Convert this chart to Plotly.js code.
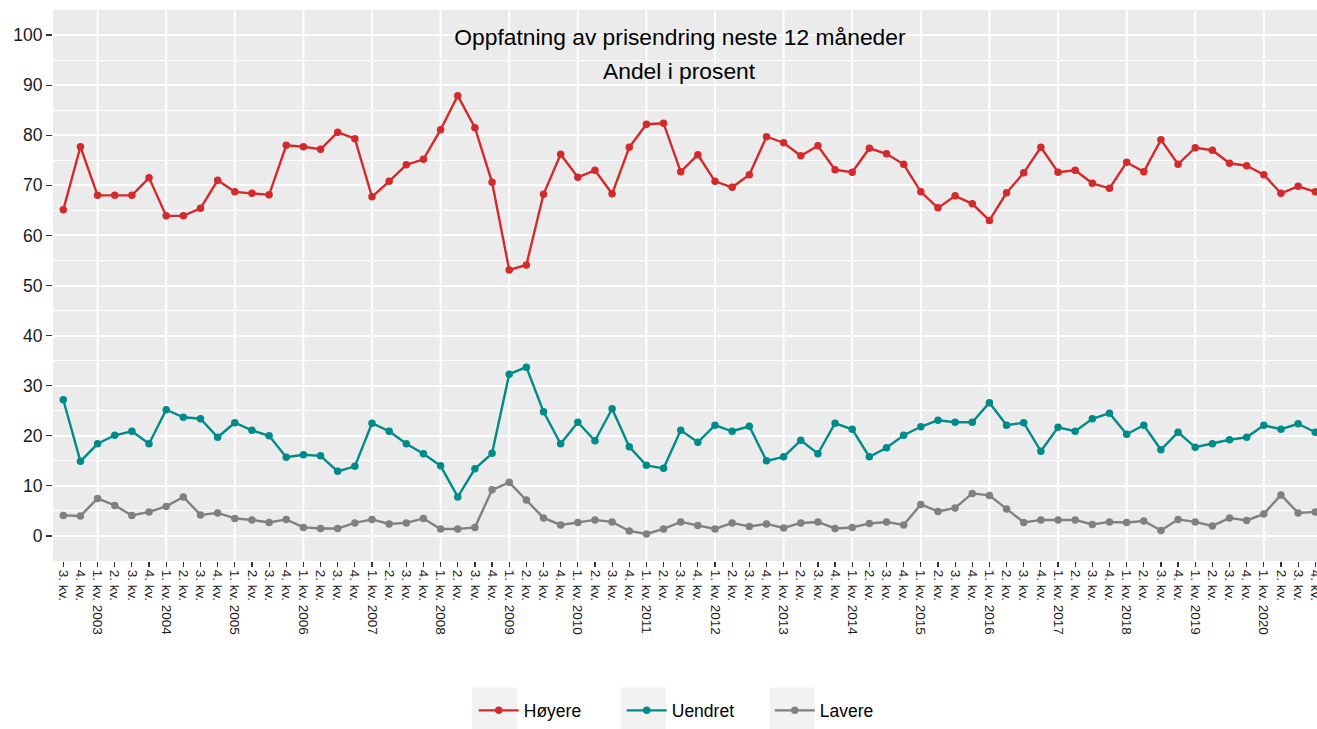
<!DOCTYPE html>
<html>
<head>
<meta charset="utf-8">
<script src="https://cdn.plot.ly/plotly-3.0.1.min.js"></script>
<style>
  html, body { margin: 0; padding: 0; background: #ffffff; }
  #chart { width: 1317px; height: 729px; }
</style>
</head>
<body>
<div id="chart"></div>
<script>
// Quarter labels (x categories)
const kvartaler = [
  "3. kv.", "4. kv.",
  "1. kv. 2003", "2. kv.", "3. kv. ", "4. kv. ",
  "1. kv. 2004", "2. kv.  ", "3. kv.  ", "4. kv.  ",
  "1. kv. 2005", "2. kv.   ", "3. kv.   ", "4. kv.   ",
  "1. kv. 2006", "2. kv.    ", "3. kv.    ", "4. kv.    ",
  "1. kv. 2007", "2. kv.     ", "3. kv.     ", "4. kv.     ",
  "1. kv. 2008", "2. kv.      ", "3. kv.      ", "4. kv.      ",
  "1. kv. 2009", "2. kv.       ", "3. kv.       ", "4. kv.       ",
  "1. kv. 2010", "2. kv.        ", "3. kv.        ", "4. kv.        ",
  "1. kv. 2011", "2. kv.         ", "3. kv.         ", "4. kv.         ",
  "1. kv. 2012", "2. kv.          ", "3. kv.          ", "4. kv.          ",
  "1. kv. 2013", "2. kv.           ", "3. kv.           ", "4. kv.           ",
  "1. kv. 2014", "2. kv.            ", "3. kv.            ", "4. kv.            ",
  "1. kv. 2015", "2. kv.             ", "3. kv.             ", "4. kv.             ",
  "1. kv. 2016", "2. kv.              ", "3. kv.              ", "4. kv.              ",
  "1. kv. 2017", "2. kv.               ", "3. kv.               ", "4. kv.               ",
  "1. kv. 2018", "2. kv.                ", "3. kv.                ", "4. kv.                ",
  "1. kv. 2019", "2. kv.                 ", "3. kv.                 ", "4. kv.                 ",
  "1. kv. 2020", "2. kv.                  ", "3. kv.                  ", "4. kv.                  "
];

// Series values (percent)
const hoyere = [65.1,77.7,68.0,68.0,68.0,71.5,63.9,63.9,65.4,71.0,
  68.7,68.4,68.1,78.0,77.7,77.2,80.6,79.3,67.7,70.8,
  74.1,75.2,81.1,87.9,81.5,70.6,53.1,54.1,68.2,76.2,
  71.6,73.0,68.3,77.6,82.2,82.4,72.7,76.1,70.8,69.6,
  72.1,79.7,78.5,75.9,77.9,73.1,72.6,77.4,76.3,74.2,
  68.7,65.5,67.9,66.3,63.0,68.5,72.5,77.6,72.6,73.0,
  70.4,69.4,74.6,72.7,79.1,74.2,77.5,77.0,74.4,73.9,
  72.1,68.4,69.8,68.7];

const uendret = [27.2,14.9,18.4,20.1,20.9,18.4,25.2,23.7,23.4,19.7,
  22.6,21.1,20.0,15.7,16.2,16.0,12.9,13.9,22.5,20.9,
  18.4,16.4,14.0,7.8,13.4,16.5,32.3,33.7,24.8,18.4,
  22.7,19.0,25.4,17.8,14.1,13.5,21.1,18.7,22.1,20.9,
  21.9,15.0,15.8,19.1,16.4,22.5,21.3,15.8,17.6,20.1,
  21.8,23.1,22.7,22.7,26.6,22.1,22.6,16.9,21.7,20.9,
  23.4,24.5,20.3,22.1,17.2,20.7,17.7,18.4,19.2,19.7,
  22.1,21.3,22.4,20.7];

const lavere = [4.1,4.0,7.5,6.1,4.1,4.8,5.9,7.8,4.2,4.6,
  3.5,3.2,2.7,3.3,1.7,1.5,1.5,2.6,3.3,2.4,
  2.6,3.5,1.4,1.4,1.7,9.2,10.7,7.2,3.6,2.2,
  2.7,3.2,2.8,1.0,0.4,1.4,2.8,2.1,1.4,2.6,
  1.9,2.4,1.6,2.6,2.8,1.5,1.7,2.5,2.8,2.2,
  6.3,4.9,5.6,8.5,8.1,5.4,2.7,3.2,3.2,3.2,
  2.3,2.8,2.7,3.0,1.1,3.3,2.8,2.0,3.6,3.1,
  4.4,8.2,4.6,4.8];

const serieNavn = ["Høyere", "Uendret", "Lavere"];
const serieFarger = ["#D42A2C", "#008B8B", "#808080"];
const serieVerdier = [hoyere, uendret, lavere];

const tittel = "Oppfatning av prisendring neste 12 måneder";
const undertittel = "Andel i prosent";

const traces = serieVerdier.map((vals, k) => ({
  type: "scatter",
  mode: "lines+markers",
  name: serieNavn[k],
  x: kvartaler,
  y: vals,
  line: { color: serieFarger[k], width: 2.4 },
  marker: { color: serieFarger[k], size: 7.5 },
  hoverinfo: "x+y+name"
}));

// vertical grid lines at first quarters only
const shapes = kvartaler
  .filter(l => l.startsWith("1. kv."))
  .map(l => ({
    type: "line", layer: "below", xref: "x", yref: "paper",
    x0: l, x1: l, y0: 0, y1: 1,
    line: { color: "#ffffff", width: 2 }
  }));

// light grey legend key backgrounds (ggplot style), in pixel terms of the page
const plotL = 53, plotW = 1264, plotB = 563, plotH = 553;
const nokkelStart = [472, 621, 770];
nokkelStart.forEach(px => {
  shapes.push({
    type: "rect", layer: "below", xref: "paper", yref: "paper",
    x0: (px - plotL) / plotW, x1: (px + 45 - plotL) / plotW,
    y0: (plotB - 735) / plotH, y1: (plotB - 690) / plotH,
    fillcolor: "#F2F2F2", line: { width: 0 }
  });
});

const font = "'Liberation Sans', Arial, sans-serif";

const layout = {
  width: 1317, height: 729,
  paper_bgcolor: "#ffffff",
  plot_bgcolor: "#EBEBEB",
  margin: { l: 53, r: 0, t: 10, b: 166, pad: 0 },
  font: { family: font, color: "#000000" },
  showlegend: true,
  title: {
    text: tittel,
    font: { family: font, size: 22.8, color: "#000000" },
    xref: "paper", x: 0.496, xanchor: "center",
    yref: "container", y: 1 - 37 / 729, yanchor: "middle"
  },
  annotations: [{
    text: undertittel, showarrow: false,
    xref: "paper", x: 0.496, xanchor: "center",
    yref: "paper", y: (563 - 71) / 553, yanchor: "middle",
    font: { family: font, size: 22.8, color: "#000000" }
  }],
  xaxis: {
    type: "category",
    range: [-0.6, 73.1],
    showgrid: false,
    zeroline: false,
    showline: false,
    ticks: "outside", ticklen: 5, tickwidth: 1.2, tickcolor: "#333333",
    tickangle: 90,
    tickfont: { family: font, size: 13.5, color: "#1a1a1a" },
    fixedrange: true
  },
  yaxis: {
    range: [-5, 105],
    tickmode: "array",
    tickvals: [0,10,20,30,40,50,60,70,80,90,100],
    showgrid: true, gridcolor: "#ffffff", gridwidth: 2,
    minor: { dtick: 5, tick0: 0, showgrid: true, gridcolor: "#ffffff", gridwidth: 1, ticks: "" },
    zeroline: false, showline: false,
    ticks: "outside", ticklen: 6, tickwidth: 1.2, tickcolor: "#333333",
    tickfont: { family: font, size: 17.5, color: "#1a1a1a" },
    fixedrange: true
  },
  legend: {
    orientation: "h",
    x: 0.5085, xanchor: "center",
    y: (563 - 713) / 553, yanchor: "middle",
    font: { family: font, size: 17.5, color: "#000000" },
    itemwidth: 40,
    entrywidth: 93,
    entrywidthmode: "pixels",
    bgcolor: "rgba(0,0,0,0)"
  },
  shapes: shapes
};

Plotly.newPlot("chart", traces, layout, { displayModeBar: false, staticPlot: true });
</script>
</body>
</html>
